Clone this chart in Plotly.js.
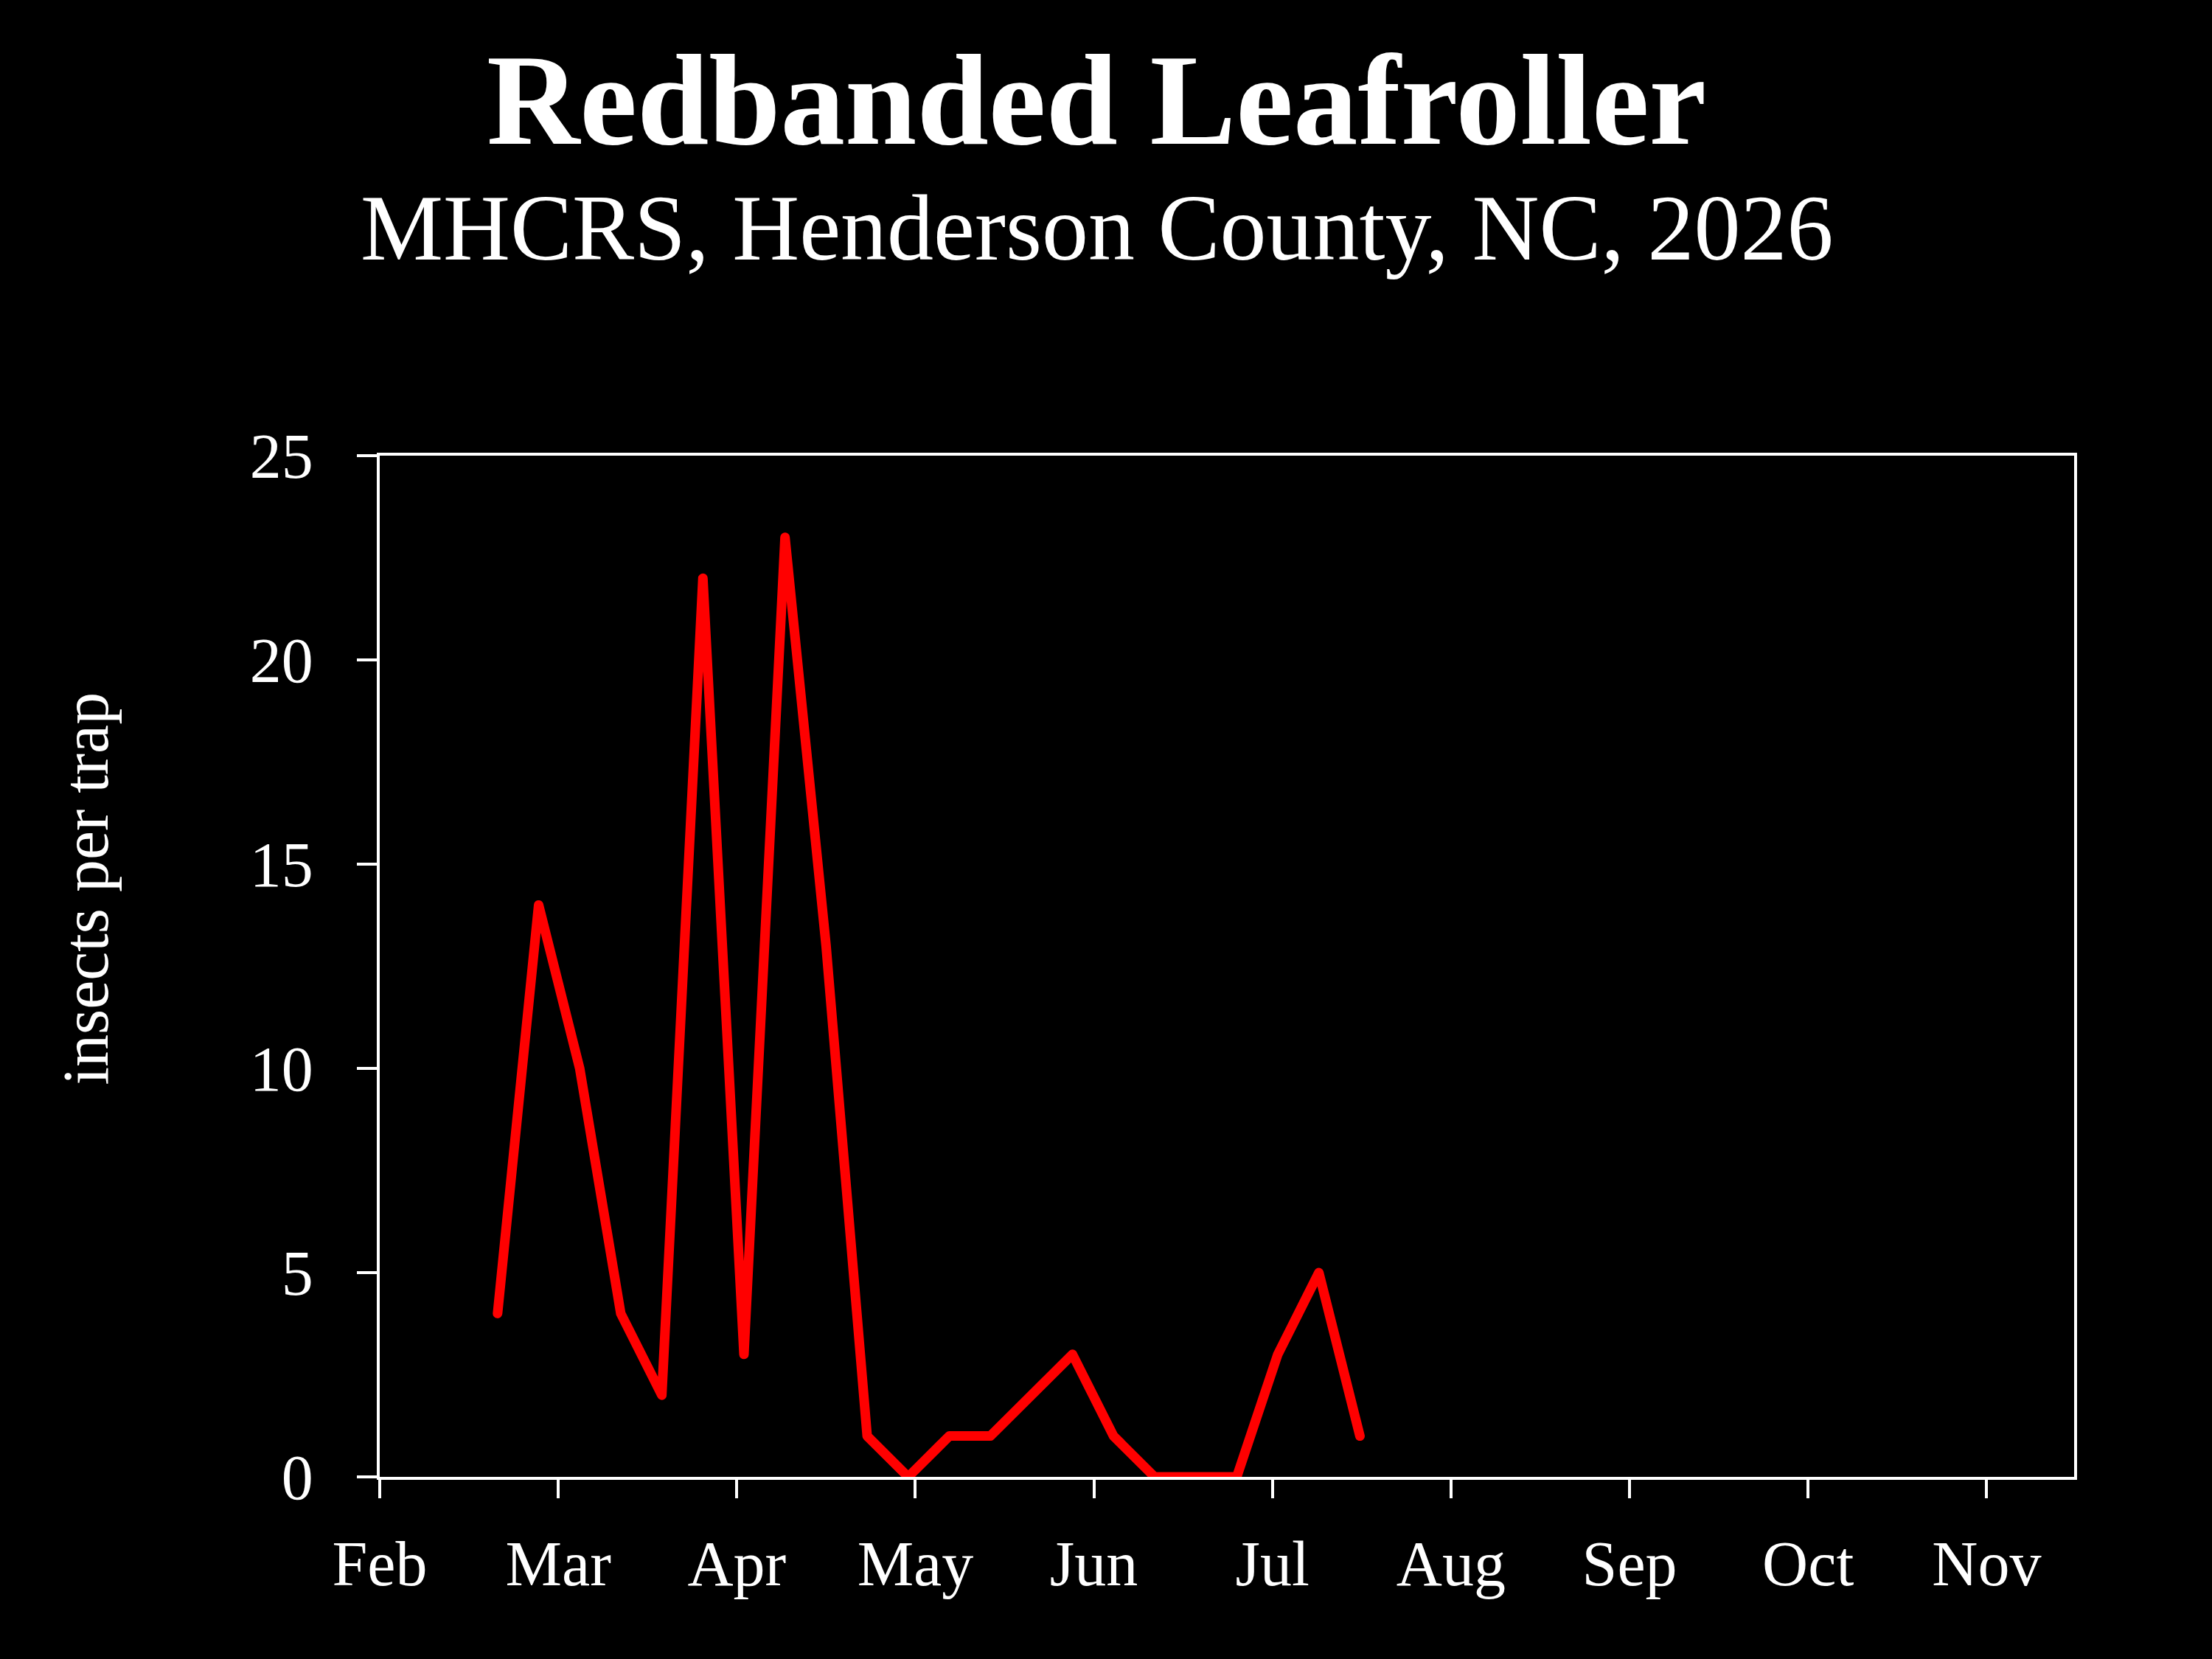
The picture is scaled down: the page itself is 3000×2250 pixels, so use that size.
<!DOCTYPE html>
<html>
<head>
<meta charset="utf-8">
<script src="https://cdn.plot.ly/plotly-3.0.1.min.js"></script>
<style>
html,body{margin:0;padding:0;background:#000;}
.js-line{stroke-linecap:round !important;stroke-linejoin:round !important;}
</style>
</head>
<body>
<div id="chart" style="width:3000px;height:2250px;"></div>
<script>
// Tick labels (months), x positions in month units from Feb
const monthLabels = ['Feb','Mar','Apr','May','Jun','Jul','Aug','Sep','Oct','Nov'];
const monthPositions = [0,1,2,3,4,5,6,7,8,9];
// Weekly trap dates (position in month units from Feb)
const samplePositions = [0.66, 0.89, 1.12, 1.35, 1.58, 1.81, 2.04, 2.27, 2.50, 2.73, 2.96,
                         3.19, 3.42, 3.65, 3.88, 4.11, 4.34, 4.57, 4.80, 5.03, 5.26, 5.49];
const insectsPerTrap = [4, 14, 10, 4, 2, 22, 3, 23, 13, 1, 0,
                        1, 1, 2, 3, 1, 0, 0, 0, 3, 5, 1];
const yTicks = [0, 5, 10, 15, 20, 25];

const serif = '"Liberation Serif", "DejaVu Serif", serif';

const trace = {
  x: samplePositions,
  y: insectsPerTrap,
  type: 'scatter',
  mode: 'lines',
  line: {color: '#ff0000', width: 13},
  cliponaxis: false,
  hoverinfo: 'none'
};

const layout = {
  width: 3000,
  height: 2250,
  paper_bgcolor: '#000000',
  plot_bgcolor: '#000000',
  margin: {l: 515, r: 187, t: 618, b: 247, pad: 0},
  showlegend: false,
  font: {family: serif, color: '#ffffff'},
  title: {
    text: '<b>Redbanded Leafroller</b>',
    font: {family: serif, size: 175, color: '#ffffff'},
    x: 0.4957, xanchor: 'center',
    xref: 'container',
    y: 0.9404, yref: 'container', yanchor: 'middle'
  },
  annotations: [
    {
      text: 'MHCRS, Henderson County, NC, 2026',
      xref: 'paper', yref: 'paper', x: 0.4230, y: 1.2224,
      xanchor: 'center', yanchor: 'middle', showarrow: false,
      font: {family: serif, size: 126, color: '#ffffff'}
    },
    {
      text: 'insects per trap',
      xref: 'paper', yref: 'paper', x: -0.1735, y: 0.576,
      xanchor: 'center', yanchor: 'middle', showarrow: false,
      textangle: -90,
      font: {family: serif, size: 88, color: '#ffffff'}
    }
  ],
  xaxis: {
    range: [0, 9.49],
    tickmode: 'array',
    tickvals: monthPositions,
    ticktext: monthLabels,
    ticks: 'outside', ticklen: 25, tickwidth: 4, tickcolor: '#ffffff',
    showline: true, linecolor: '#ffffff', linewidth: 4, mirror: true,
    showgrid: false, zeroline: false,
    tickfont: {family: serif, size: 86, color: '#ffffff'},
    ticklabelstandoff: 15
  },
  yaxis: {
    range: [0, 25],
    tickmode: 'array',
    tickvals: yTicks,
    ticks: 'outside', ticklen: 27, tickwidth: 4, tickcolor: '#ffffff',
    showline: true, linecolor: '#ffffff', linewidth: 4, mirror: true,
    showgrid: false, zeroline: false,
    tickfont: {family: serif, size: 86, color: '#ffffff'},
    ticklabelstandoff: 42
  }
};

Plotly.newPlot('chart', [trace], layout, {staticPlot: true, displayModeBar: false});
</script>
</body>
</html>
